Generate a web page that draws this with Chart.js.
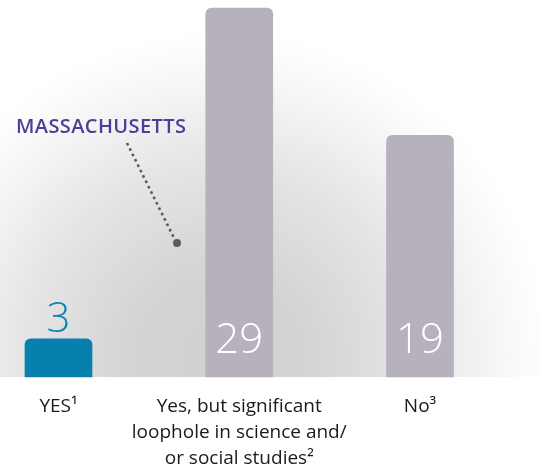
<!DOCTYPE html>
<html>
<head>
<meta charset="utf-8">
<script src="https://cdn.jsdelivr.net/npm/chart.js@4"></script>
<style>
    body { margin: 0; background: #fff; }
    #wrap { width: 540px; height: 472px; position: relative; }
</style>
</head>
<body>
<div id="wrap"><canvas id="loopholes"></canvas></div>
<script>
// Categories (multi-line labels) and number of states in each
const categories = [
    ['YES¹'],
    ['Yes, but significant', 'loophole in science and/', 'or social studies²'],
    ['No³']
];
const stateCounts = [3, 29, 19];
const barColors = ['#0880ae', '#b6b1bd', '#b6b1bd'];
const valueColors = ['#0a84b3', '#ffffff', '#ffffff'];

const FONT = '"Open Sans", "Noto Sans", sans-serif';

// Soft grey glow behind the bars, cut off at the baseline
const glowPlugin = {
    id: 'glow',
    beforeDraw(chart) {
        const { ctx, chartArea } = chart;
        ctx.save();
        ctx.beginPath();
        ctx.rect(0, 0, chart.width, chartArea.bottom);
        ctx.clip();
        const g = ctx.createRadialGradient(220, 360, 0, 220, 360, 330);
        g.addColorStop(0, '#d0d0d0');
        g.addColorStop(0.27, '#d4d4d4');
        g.addColorStop(0.58, '#e4e4e4');
        g.addColorStop(0.74, '#efefef');
        g.addColorStop(0.84, '#f6f6f6');
        g.addColorStop(0.92, '#fbfbfb');
        g.addColorStop(1, '#ffffff');
        ctx.fillStyle = g;
        ctx.fillRect(0, 0, chart.width, chartArea.bottom);
        ctx.restore();
    }
};

// Numbers on the bars: above the small one, inside the tall ones
const valueLabels = {
    id: 'valueLabels',
    afterDatasetsDraw(chart) {
        const { ctx } = chart;
        const meta = chart.getDatasetMeta(0);
        ctx.save();
        ctx.textAlign = 'center';
        ctx.textBaseline = 'alphabetic';
        ctx.font = '300 42px ' + FONT;
        meta.data.forEach((bar, i) => {
            const v = chart.data.datasets[0].data[i];
            ctx.fillStyle = valueColors[i];
            const y = i === 0 ? bar.y - 7 : bar.base - 24;
            ctx.fillText(String(v), bar.x, y);
        });
        ctx.restore();
    }
};

// "MASSACHUSETTS" callout with dotted pointer
const callout = {
    id: 'callout',
    afterDraw(chart) {
        const { ctx } = chart;
        ctx.save();
        ctx.font = '600 20px ' + FONT;
        ctx.letterSpacing = '0.4px';
        ctx.fillStyle = '#4b3f97';
        ctx.textAlign = 'left';
        ctx.textBaseline = 'alphabetic';
        ctx.fillText('MASSACHUSETTS', 16, 133);
        ctx.letterSpacing = '0px';

        ctx.strokeStyle = '#5c5c5c';
        ctx.lineWidth = 2.6;
        ctx.setLineDash([2.6, 3.4]);
        ctx.beginPath();
        ctx.moveTo(127, 143);
        ctx.lineTo(174, 238);
        ctx.stroke();
        ctx.setLineDash([]);
        ctx.fillStyle = '#5c5c5c';
        ctx.beginPath();
        ctx.arc(177, 243, 4, 0, Math.PI * 2);
        ctx.fill();
        ctx.restore();
    }
};

const ctx = document.getElementById('loopholes').getContext('2d');
const loopholeChart = new Chart(ctx, {
    type: 'bar',
    data: {
        labels: categories,
        datasets: [{
            data: stateCounts,
            backgroundColor: barColors,
            borderRadius: 6,
            borderSkipped: 'bottom',
            barThickness: 67,
            clip: false
        }]
    },
    options: {
        responsive: true,
        maintainAspectRatio: false,
        animation: false,
        layout: { padding: { left: 58.5, right: 120, top: 8, bottom: 0 } },
        plugins: {
            legend: { display: false },
            tooltip: { enabled: false }
        },
        scales: {
            x: {
                offset: false,
                grid: { display: false },
                border: { display: false },
                ticks: {
                    autoSkip: false,
                    maxRotation: 0,
                    padding: 8,
                    color: '#1a1a1a',
                    font: { family: FONT, size: 19, lineHeight: 1.38 }
                },
                afterFit(scale) { scale.height = 95; }
            },
            y: {
                display: false,
                min: 0,
                max: 29
            }
        }
    },
    plugins: [glowPlugin, valueLabels, callout]
});
</script>
</body>
</html>
